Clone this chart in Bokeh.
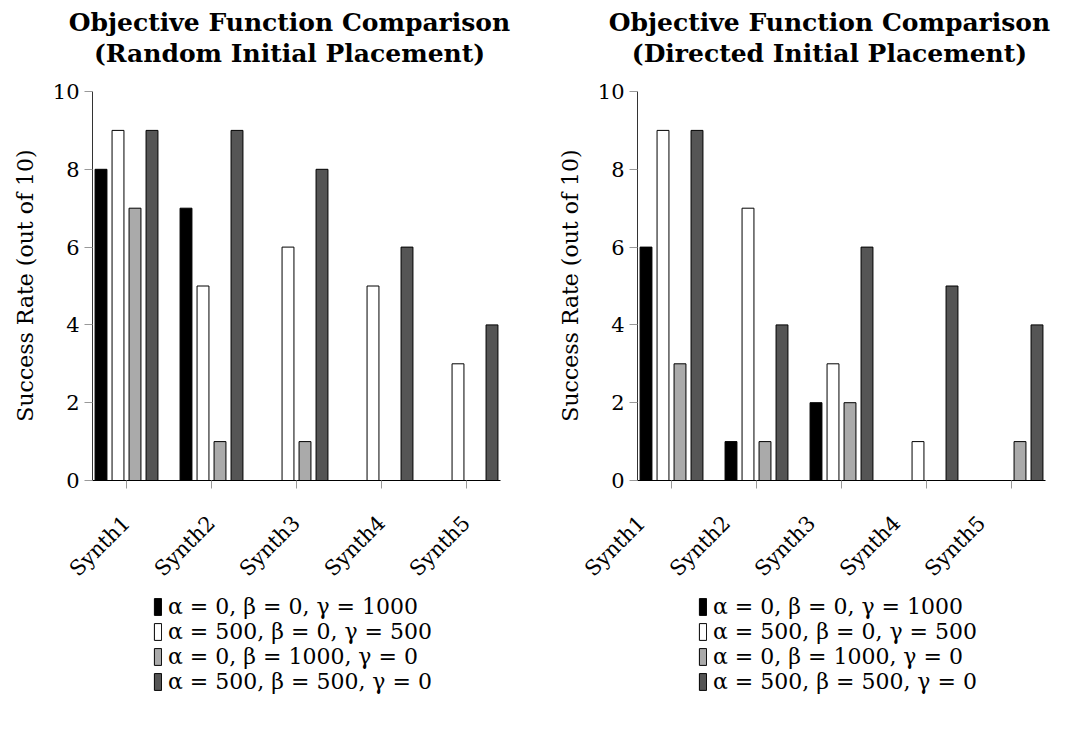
from math import pi
from bokeh.plotting import figure
from bokeh.models import (Range1d, FixedTicker, LinearAxis, Legend, LegendItem, Label)
from bokeh.layouts import row
from bokeh.embed import file_html
from bokeh.resources import INLINE

categories = ["Synth1", "Synth2", "Synth3", "Synth4", "Synth5"]
series_labels = ["α = 0, β = 0, γ = 1000",
                 "α = 500, β = 0, γ = 500",
                 "α = 0, β = 1000, γ = 0",
                 "α = 500, β = 500, γ = 0"]
random_a = [8, 7, 0, 0, 0]
random_b = [9, 5, 6, 5, 3]
random_c = [7, 1, 1, 0, 0]
random_d = [9, 9, 8, 6, 4]
directed_a = [6, 1, 2, 0, 0]
directed_b = [9, 7, 3, 1, 0]
directed_c = [3, 1, 2, 0, 1]
directed_d = [9, 4, 6, 5, 4]
y_ticks = [0, 2, 4, 6, 8, 10]
y_label = "Success Rate (out of 10)"

fills = ["#000000", "#ffffff", "#aaaaaa", "#555555"]
offsets = [-0.3, -0.1, 0.1, 0.3]
BAR_W = 0.14
SERIF = "DejaVu Serif"

# layout (pixels)
FRAME_H = 720
ZERO_PX = 480        # zero line, from top
PX_PER_UNIT = 38.9   # y scale
PX_PER_CAT = 85      # x scale
AXIS_PX = 92         # y-axis position from the figure's left edge


def make_plot(title1, title2, series, label_shift, width, title_cx):
    x0 = -0.4 - AXIS_PX / PX_PER_CAT
    x1 = x0 + width / PX_PER_CAT
    p = figure(frame_width=width, frame_height=FRAME_H, output_backend="svg",
               toolbar_location=None, x_range=Range1d(x0, x1),
               y_range=Range1d(-(FRAME_H - ZERO_PX) / PX_PER_UNIT, ZERO_PX / PX_PER_UNIT),
               min_border=0, min_border_left=0, min_border_right=0,
               min_border_top=0, min_border_bottom=0)
    p.title = None
    p.grid.visible = False
    p.outline_line_color = None
    p.border_fill_color = "white"

    # titles
    for txt, base in ((title1, 22), (title2, 53)):
        p.add_layout(Label(x=title_cx, y=FRAME_H - base, x_units="screen", y_units="screen",
                           text=txt, text_align="center", text_baseline="alphabetic",
                           text_font=SERIF, text_font_size="25px", text_font_style="bold",
                           text_color="#000000"))
    # y-axis title
    p.add_layout(Label(x=25, y=FRAME_H - 285, x_units="screen", y_units="screen",
                       text=y_label, angle=pi / 2, text_align="center",
                       text_baseline="middle", text_font=SERIF, text_font_size="22px",
                       text_color="#000000"))

    renderers = []
    xs = list(range(len(categories)))
    for vals, fill, off in zip(series, fills, offsets):
        r = p.vbar(x=[x + off for x in xs], top=vals, bottom=0, width=BAR_W,
                   fill_color=fill, line_color="#000000", line_width=1)
        renderers.append(r)

    # y axis
    yax = p.yaxis[0]
    yax.fixed_location = -0.4
    yax.ticker = FixedTicker(ticks=y_ticks)
    yax.bounds = (0, 10)
    yax.major_label_text_font = SERIF
    yax.major_label_text_font_size = "21px"
    yax.major_label_text_color = "#000000"
    yax.major_label_standoff = 5
    yax.major_tick_out = 8
    yax.major_tick_in = 0
    yax.major_tick_line_color = "#999999"
    yax.minor_tick_line_color = None
    yax.axis_line_color = "#333333"

    # x axis: tick marks at categories, drawn at the zero line
    xax = p.xaxis[0]
    xax.fixed_location = 0
    xax.ticker = FixedTicker(ticks=xs)
    xax.bounds = (-0.4, 4.4)
    xax.major_tick_out = 8
    xax.major_tick_in = 0
    xax.major_tick_line_color = "#999999"
    xax.minor_tick_line_color = None
    xax.axis_line_color = "#000000"
    if label_shift == 0:
        xax.major_label_overrides = {i: c for i, c in enumerate(categories)}
        xax.major_label_orientation = pi / 4
        xax.major_label_text_font = SERIF
        xax.major_label_text_font_size = "21px"
        xax.major_label_text_color = "#000000"
        xax.major_label_standoff = 31
    else:
        xax.major_label_overrides = {i: "" for i in xs}
        xax.major_label_standoff = 0
        pos = [i + label_shift for i in xs]
        lab_ax = LinearAxis(ticker=FixedTicker(ticks=pos),
                            major_label_overrides={q: c for q, c in zip(pos, categories)},
                            axis_line_color=None, major_tick_line_color=None,
                            minor_tick_line_color=None, major_tick_out=8)
        lab_ax.fixed_location = 0
        lab_ax.major_label_orientation = pi / 4
        lab_ax.major_label_text_font = SERIF
        lab_ax.major_label_text_font_size = "21px"
        lab_ax.major_label_text_color = "#000000"
        lab_ax.major_label_standoff = 31
        p.add_layout(lab_ax, "below")

    items = [LegendItem(label=lbl, renderers=[r]) for lbl, r in zip(series_labels, renderers)]
    leg = Legend(items=items, location=(153, 26), orientation="vertical",
                 border_line_color=None, background_fill_alpha=0,
                 padding=0, spacing=-2, margin=0, glyph_width=9, glyph_height=21,
                 label_height=21, label_standoff=6, label_text_font=SERIF,
                 label_text_font_size="22px", label_text_color="#000000")
    p.add_layout(leg)
    return p


p1 = make_plot("Objective Function Comparison", "(Random Initial Placement)",
               [random_a, random_b, random_c, random_d], 0, 545, 289)
p2 = make_plot("Objective Function Comparison", "(Directed Initial Placement)",
               [directed_a, directed_b, directed_c, directed_d], -0.35, 520, 284)

layout = row(p1, p2)
open("out.html", "w").write(file_html(layout, INLINE))
